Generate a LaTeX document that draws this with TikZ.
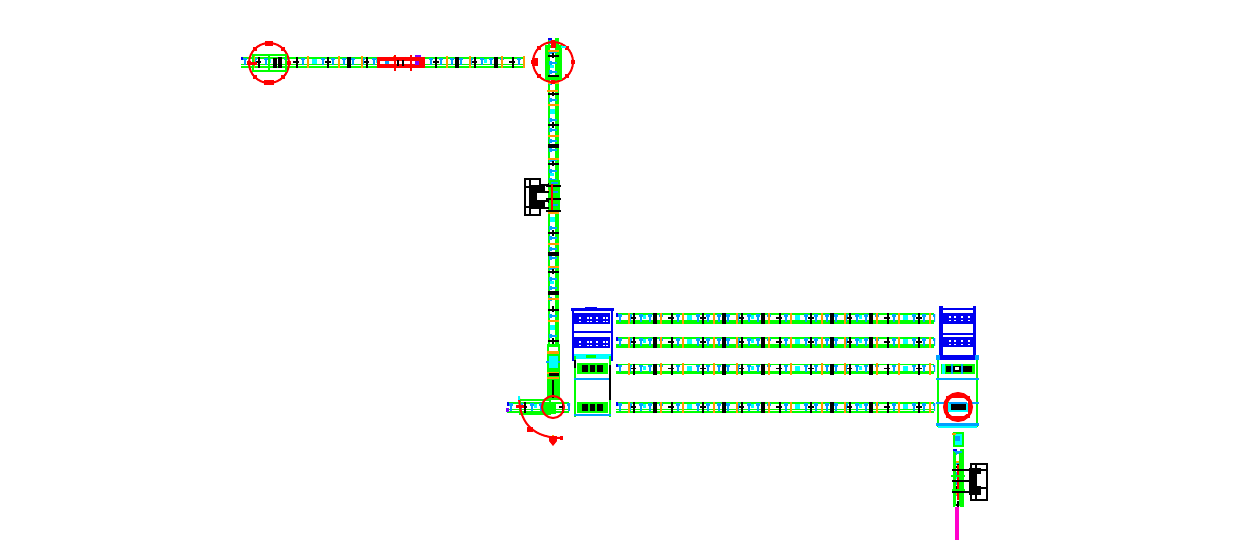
\documentclass[tikz,border=0pt]{standalone}
\usetikzlibrary{calc}
\definecolor{gr}{HTML}{00FF00}
\definecolor{cy}{HTML}{00FFFF}
\definecolor{dod}{HTML}{00A0FF}
\definecolor{org}{HTML}{FF9900}
\definecolor{rd}{HTML}{FF0000}
\definecolor{bl}{HTML}{0000F0}
\definecolor{mg}{HTML}{FF00CC}
\definecolor{pu}{HTML}{8000FF}
\tikzset{
  px/.style={x=1pt,y=-1pt},
  rail/.style={draw=gr,line width=1.8pt},
  railthick/.style={draw=gr,line width=3.4pt},
  tickb/.style={draw=black,line width=1.8pt},
  tickk/.style={draw=black,line width=3.4pt},
  ticko/.style={draw=org,line width=1.8pt},
  tickd/.style={draw=dod,line width=2.4pt},
  redline/.style={draw=rd,line width=2pt},
  bluebar/.style={draw=bl,line width=2.4pt},
  motor/.style={draw=black,line width=2.4pt,fill=white},
  horiz/.style={shift={#1},x=1pt,y=-1pt},
  vert/.style={shift={#1},x={(0pt,-1pt)},y={(1pt,0pt)}}
}
% strip along local x, across local y 0..11
\newcommand{\strip}[2]{%
  \begin{scope}
    \clip (-1,-1.5) rectangle (#1+1,12.5);
    \draw[rail] (0,0.9) -- (#1,0.9);
    \draw[draw=gr,line width=1.1pt] (0,7.6) -- (#1,7.6);
    \draw[#2] (0,9.7) -- (#1,9.7);
    \foreach \t in {0,108,...,540}{
      \begin{scope}[shift={(\t,0)}]
        \fill[cy] (71,2) rectangle (76,7);
        \fill[cy] (27,2) rectangle (30,6);
        \foreach \a in {4,14,25,34,45,62,82,92,103}{
          \draw[tickd] (\a,1) -- (\a,8.5);
          \fill[dod] (\a-2.2,1) rectangle (\a+2.2,3.5);
        }
        \foreach \a in {13,45,67,98}
          \draw[ticko] (\a,-.5) -- (\a,11);
        \foreach \a in {18,56,87}
          \draw[tickb] (\a,0) -- (\a,11);
        \foreach \a in {39,108}
          \draw[tickk] (\a,0) -- (\a,11);
        \draw[tickb] (52,5) -- (58,5);
        \draw[tickb] (15,5) -- (20,5);
        \draw[tickb] (84,5) -- (90,5);
      \end{scope}
    }
    \fill[bl] (0,0) rectangle (2,3.5);
  \end{scope}
}
% red ring with small ticks around
\newcommand{\ring}[3]{%
  \draw[redline] (#1,#2) circle[radius=#3];
  \foreach \ang in {0,45,...,315}
    \fill[rd] ($(#1,#2)+(\ang:#3)$) ++(-2.2,-2.2) rectangle ++(4.4,4.4);
}
\begin{document}
\begin{tikzpicture}[px]
\useasboundingbox (0,0) rectangle (1240,540);
\fill[white] (0,0) rectangle (1240,540);

% ---- top horizontal line
\begin{scope}[horiz={(241,57)}]\strip{283}{rail}\end{scope}
\ring{269}{63}{20}
\fill[rd] (265,41) rectangle (273,46);
\fill[rd] (264,80) rectangle (274,85);
\draw[draw=gr,line width=2pt] (253,55) rectangle (286,71);
\draw[rail] (269,55) -- (269,71);
\draw[tickk] (275,58) -- (275,68);
\fill[rd] (251,62) rectangle (257,65);
% red section
\fill[rd] (377,57) rectangle (425,68.5);
\fill[white] (380,61.5) rectangle (417,64.5);
\draw[tickb] (398,60) -- (398,66);
\draw[tickb] (403,60) -- (403,66);
\fill[dod] (385,61.5) rectangle (389,64.5);
\fill[pu] (415,61) rectangle (419,65);
\fill[pu] (415,55.5) rectangle (421,57);
\fill[rd] (394,55) rectangle (396,71);
\fill[rd] (410,55) rectangle (412,71);

% ---- main vertical line
\begin{scope}[vert={(548,38)}]\strip{340}{railthick}\end{scope}
\ring{553}{62}{20}
\fill[rd] (532,58) rectangle (538,66);
\draw[draw=gr,line width=3pt] (546,47) rectangle (560,79);
\fill[rd] (551,42) rectangle (556,48);
\fill[cy] (561,46) rectangle (566,48);
\fill[org] (547,90) rectangle (558,92);
% motor on vertical line
\draw[motor] (525,179) rectangle (540,215);
\fill[black] (531,185) rectangle (545,209);
\fill[white] (537,193) rectangle (546,200);
\draw[tickb] (530,179) -- (530,215);
\draw[tickb] (525,187) -- (533,187);
\draw[tickb] (525,207) -- (533,207);
\foreach \yy in {185,192,201,208}
  \draw[draw=black,line width=2pt] (540,\yy) -- (558,\yy);
\fill[gr] (549,180) rectangle (560,212);
\foreach \yy in {186,199,211}{
  \draw[draw=black,line width=1.5pt] (546,\yy) -- (561,\yy);
}
\foreach \yy in {183,192,205}
  \draw[tickd] (551,\yy) -- (558,\yy);
\draw[redline] (552,184) -- (552,210);

% ---- junction lower left
\fill[gr] (547,344) rectangle (560,400);
\foreach \yy in {352,353,373,378}
  \draw[ticko] (547,\yy) -- (559,\yy);
\draw[tickk] (549,374.5) -- (559,374.5);
\draw[tickd] (546,362) -- (560,362);
\fill[white] (549,347) rectangle (558,351);
\fill[cy] (549,356) rectangle (558,368);
\draw[tickb] (553,380) -- (553,398);
\begin{scope}[horiz={(507,402)}]\strip{62}{rail}\end{scope}
\fill[pu] (506,408) rectangle (509,412);
\draw[draw=gr,line width=2pt] (520,400) rectangle (550,414);
\fill[gr] (543,402) rectangle (556,414);
\draw[redline] (553,407) circle[radius=11];
\fill[rd] (516,405) rectangle (524,408);
\draw[redline] (519,398) .. controls (520,425) and (535,438) .. (562,438);
\fill[rd] (527,427) rectangle (533,432);
\fill[rd] (549,436) rectangle (557,441);
\fill[rd] (549,441) -- (553,446) -- (557,441) -- cycle;
\fill[rd] (560,436) rectangle (563,440);
\fill[org] (552,435) rectangle (554,436);
\fill[cy] (518,396) rectangle (520,400);

% ---- left blue rack and station
\draw[bluebar] (571,309.5) -- (614,309.5);
\fill[bl] (585,307) rectangle (597,309);
\fill[bl] (574,313) rectangle (610,324);
\fill[bl] (574,337) rectangle (610,348);
\foreach \xx in {579,587,590,596,603,606}{
  \fill[white] (\xx,317) rectangle +(1.5,2);
  \fill[white] (\xx,321) rectangle +(1.5,1);
  \fill[white] (\xx,341) rectangle +(1.5,2);
  \fill[white] (\xx,345) rectangle +(1.5,1);
}
\draw[bluebar] (573,309) -- (573,361);
\draw[bluebar] (612,309) -- (612,361);
\draw[bluebar] (572,332) -- (613,332);
\draw[bluebar] (572,355) -- (613,355);
\fill[cy] (574,354) rectangle (611,359);
\fill[gr] (586,355) rectangle (596,358);
\draw[rail] (575,356) -- (575,417);
\draw[rail] (610,356) -- (610,417);
\foreach \yy in {363,402}{
  \fill[gr] (577,\yy) rectangle (608,\yy+11);
  \fill[black] (582,\yy+2) rectangle (588,\yy+9);
  \fill[black] (590,\yy+2) rectangle (595,\yy+9);
  \fill[black] (597,\yy+2) rectangle (603,\yy+9);
}
\draw[tickd] (574,379) -- (611,379);
\draw[tickd] (574,415) -- (611,415);
\draw[tickb] (575,360) -- (575,368);
\draw[tickb] (610,365) -- (610,400);

% ---- long parallel lines
\begin{scope}[horiz={(616,313)}]\strip{318}{railthick}\end{scope}
\begin{scope}[horiz={(616,337)}]\strip{318}{railthick}\end{scope}
\begin{scope}[horiz={(616,363.5)}]\strip{318}{rail}\end{scope}
\begin{scope}[horiz={(616,402)}]\strip{318}{rail}\end{scope}

% ---- right blue rack and station
\fill[bl] (939,306) rectangle (943,357);
\fill[bl] (973,306) rectangle (976,357);
\draw[bluebar] (939,309) -- (976,309);
\draw[bluebar] (939,334) -- (976,334);
\fill[bl] (942,313) rectangle (973,324);
\fill[bl] (942,337) rectangle (973,347);
\foreach \xx in {949,954,961,968}{
  \fill[white] (\xx,316) rectangle +(1.5,2);
  \fill[white] (\xx,320) rectangle +(1.5,1);
  \fill[white] (\xx,340) rectangle +(1.5,2);
  \fill[white] (\xx,344) rectangle +(1.5,1);
}
\fill[bl] (940,355) rectangle (975,360);
\draw[rail] (938,358) -- (938,427);
\draw[rail] (977,358) -- (977,427);
\fill[gr] (941,364) rectangle (975,374);
\fill[black] (946,366) rectangle (972,372);
\fill[cy] (942,364) rectangle (945,374);
\draw[tickd] (952,364) -- (952,374);
\draw[tickd] (962,364) -- (962,374);
\fill[white] (955,367) rectangle (959,370);
\draw[tickd] (936,379) -- (979,379);
\draw[tickd] (936,403) -- (979,403);
\draw[tickd] (936,424.5) -- (979,424.5);
\draw[draw=cy,line width=1.5pt] (938,427) -- (977,427);
\fill[dod] (936,355) rectangle (940,360);
\fill[dod] (975,355) rectangle (979,360);
\fill[gr] (945,402) rectangle (971,413);
\draw[draw=rd,line width=4pt] (958,407) circle[radius=13];
\draw[draw=rd,line width=2pt] (947,397) rectangle (969,417);
\fill[white] (949,401) rectangle (968,414);
\fill[cy] (948,403) rectangle (968,412);
\fill[black] (951,404) rectangle (966,410);
\draw[tickd] (949,403) -- (967,403);

% ---- lower right piece
\fill[cy] (953,432) rectangle (963,446);
\draw[rail] (954,433) rectangle (963,446);
\fill[dod] (955,436) rectangle (960,441);
\draw[ticko] (952,434) -- (956,434);
\begin{scope}[vert={(953,449)}]\strip{58}{railthick}\end{scope}
\fill[gr] (953,452) rectangle (956,506);
\fill[gr] (959,452) rectangle (964,506);
\draw[redline] (958,465) -- (958,500);
\draw[tickd] (955,452) -- (962,452);
% motor
\draw[motor] (971,464) rectangle (987,500);
\fill[black] (969,468) rectangle (981,495);
\fill[white] (976,474) rectangle (982,486);
\draw[tickb] (976,464) -- (976,500);
\draw[tickb] (980,470) -- (987,470);
\draw[tickb] (980,488) -- (987,488);
\foreach \yy in {470,481,492}
  \draw[draw=black,line width=2pt] (952,\yy) -- (970,\yy);
\draw[draw=gr,line width=1.5pt] (951,476) -- (965,476);
\draw[draw=gr,line width=1.5pt] (952,490) -- (965,490);
\fill[mg] (955,507) rectangle (959,540);
\end{tikzpicture}
\end{document}
